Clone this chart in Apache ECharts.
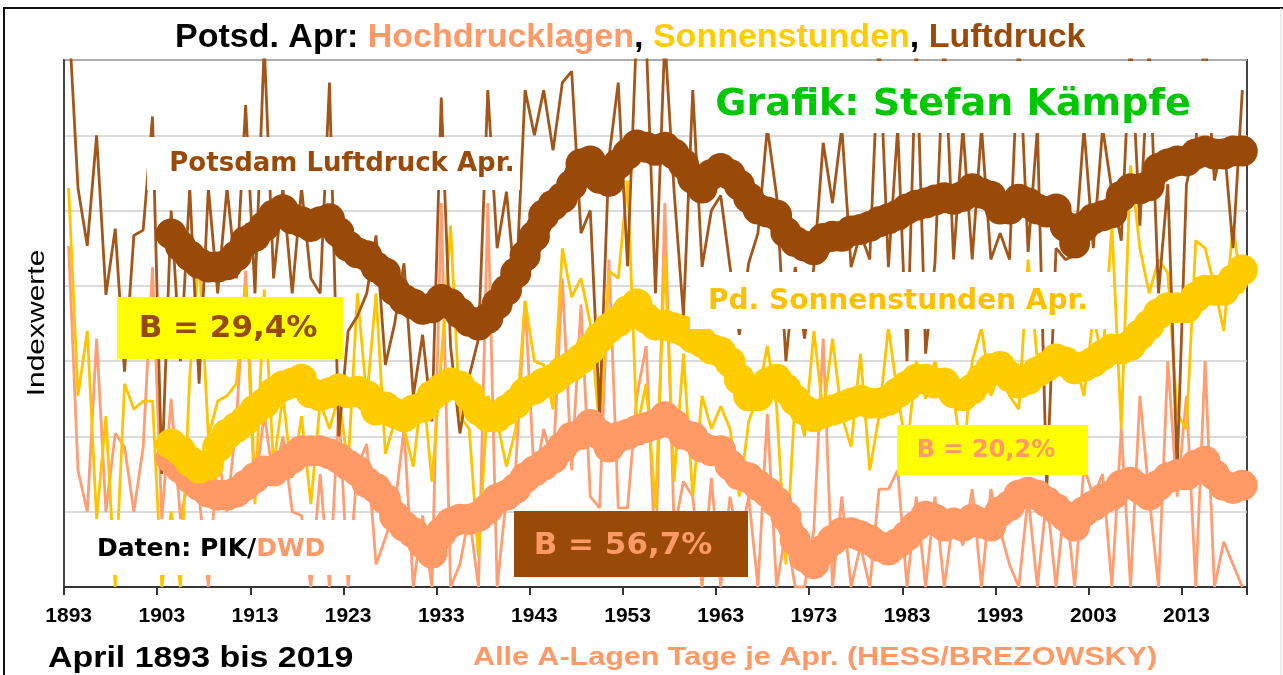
<!DOCTYPE html>
<html>
<head>
<meta charset="utf-8">
<script src="https://cdn.jsdelivr.net/npm/echarts@6/dist/echarts.min.js"></script>
<style>
html,body{margin:0;padding:0;background:#fff;}
#chart{width:1283px;height:675px;}
</style>
</head>
<body>
<div id="chart"></div>
<script>
// ---- categories ----
const years = [];
for (let y = 1893; y <= 2019; y++) years.push(String(y));

// ---- raw yearly index values (1893-2019) ----
const luftdruck = [
  7.6, 5.3, 4.53, 6.0, 3.88, 4.76, 2.86, 4.67, 4.74, 6.25,
  1.5, 5.0, 3.0, 5.3, 2.7, 5.3, 3.9, 5.3, 4.1, 6.4,
  3.9, 7.2, 4.1, 5.3, 3.9, 5.3, 4.1, 3.9, 6.7, 2.0,
  3.4, 3.6, 3.9, 4.67, 2.95, 3.5, 4.3, 2.54, 3.35, 2.2,
  6.5, 3.2, 2.04, 2.8, 3.3, 6.6, 4.5, 5.25, 3.9, 6.6,
  6.0, 6.6, 5.8, 6.7, 6.85, 4.7, 5.0, 2.3, 5.7, 6.7,
  4.26, 7.5, 7.3, 3.9, 7.3, 5.25, 3.6, 6.6, 4.25, 5.0,
  5.2, 4.25, 3.35, 4.3, 4.7, 6.1, 5.2, 3.0, 4.25, 3.3,
  4.25, 5.9, 5.1, 6.1, 4.25, 4.7, 4.35, 7.3, 4.25, 6.1,
  3.0, 7.3, 3.1, 4.3, 7.3, 4.35, 6.1, 4.35, 6.1, 4.35,
  4.7, 4.35, 7.3, 4.45, 6.1, 1.3, 4.5, 4.35, 4.4, 6.1,
  4.5, 6.1, 5.25, 4.6, 7.3, 4.8, 7.2, 3.9, 5.35, 1.55,
  5.35, 5.9, 7.3, 5.4, 5.95, 4.5, 6.6
];
const sonnenstunden = [
  5.3, 2.54, 3.4, 0.9, 2.27, 0, 2.7, 2.36, 2.47, 2.47,
  0, 1.0, 0, 2.8, 4.4, 2.0, 2.47, 2.54, 2.7, 4.0,
  1.1, 3.95, 1.6, 2.54, 1.45, 2.27, 1.1, 2.45, 2.1, 2.54,
  1.6, 3.9, 2.5, 3.9, 1.77, 2.2, 2.1, 1.6, 2.7, 1.4,
  3.0, 4.8, 2.27, 2.1, 0.4, 2.54, 2.2, 1.6, 2.1, 3.8,
  3.0, 2.95, 2.36, 4.5, 3.85, 4.1, 3.5, 2.1, 4.2, 4.1,
  5.4, 2.1, 2.7, 1.05, 4.4, 1.4, 3.1, 1.2, 2.54, 2.1,
  2.4, 2.1, 1.2, 2.2, 2.54, 3.2, 2.4, 0.3, 2.54, 2.0,
  3.4, 2.3, 3.3, 2.27, 1.86, 3.1, 1.55, 2.27, 3.45, 2.54,
  1.8, 3.0, 2.5, 3.0, 2.5, 2.54, 1.6, 3.0, 3.45, 2.54,
  2.86, 2.54, 2.36, 4.35, 3.0, 2.7, 3.0, 2.77, 3.0, 2.54,
  3.6, 3.0, 4.8, 2.1, 5.6, 4.5, 3.9, 4.35, 4.17, 2.3,
  2.1, 4.6, 4.5, 4.0, 3.4, 4.8, 3.9
];
const hochdrucklagen = [
  4.53, 1.55, 1.0, 3.3, 1.0, 2.04, 1.86, 1.0, 1.86, 4.25,
  0.9, 2.5, 0.9, 1.5, 1.2, 0, 1.8, 1.0, 2.2, 4.2,
  1.3, 2.3, 1.4, 2.0, 1.0, 0.95, 0, 1.5, 0, 2.4,
  0, 1.6, 1.9, 0.3, 0.65, 1.05, 2.1, 0, 0.95, 0,
  5.1, 0, 0.3, 0.95, 0, 5.1, 0, 1.2, 1.6, 3.8,
  1.4, 2.1, 1.6, 4.1, 1.55, 3.75, 1.2, 1.05, 4.35, 1.05,
  1.05, 2.54, 3.2, 0.3, 5.1, 0.75, 1.4, 1.2, 0, 1.45,
  0, 1.2, 0.55, 1.2, 0, 2.3, 0, 0.75, 0, 0,
  0.75, 3.3, 0, 1.2, 0, 0.55, 0, 1.3, 1.3, 1.55,
  0, 1.2, 0, 1.2, 0, 0.95, 0.55, 1.3, 0, 1.3,
  0.75, 0.3, 0, 1.2, 0, 1.2, 0, 1.2, 0, 1.6,
  1.2, 1.5, 0, 2.1, 0, 2.54, 1.2, 0, 3.0, 1.2,
  2.54, 0, 3.0, 0, 0.6, 0.3, 0
];

// ---- smoothed curves, 1904-2019 ----
const smoothStart = 1904;
const luftdruckSmooth = [
  4.69, 4.53, 4.40, 4.30, 4.25, 4.25, 4.28, 4.40, 4.59, 4.66,
  4.79, 4.94, 5.01, 4.89, 4.85, 4.79, 4.85, 4.89, 4.71, 4.53,
  4.44, 4.40, 4.25, 4.17, 3.94, 3.82, 3.76, 3.69, 3.71, 3.82,
  3.76, 3.64, 3.53, 3.48, 3.57, 3.76, 3.94, 4.17, 4.40, 4.66,
  4.94, 5.07, 5.17, 5.34, 5.62, 5.66, 5.43, 5.39, 5.62, 5.75,
  5.87, 5.84, 5.80, 5.84, 5.75, 5.62, 5.43, 5.30, 5.48, 5.56,
  5.48, 5.34, 5.17, 5.02, 4.98, 4.94, 4.71, 4.59, 4.53, 4.48,
  4.63, 4.66, 4.66, 4.73, 4.75, 4.79, 4.85, 4.89, 4.94, 5.02,
  5.07, 5.10, 5.14, 5.17, 5.15, 5.19, 5.29, 5.23, 5.19, 5.02,
  5.02, 5.15, 5.10, 5.02, 4.98, 5.02, 4.79, 4.57, 4.79, 4.89,
  4.93, 4.97, 5.19, 5.29, 5.29, 5.33, 5.56, 5.62, 5.66, 5.66,
  5.75, 5.79, 5.75, 5.75, 5.79, 5.79
];
const sonneSmooth = [
  1.90, 1.81, 1.67, 1.58, 1.62, 1.86, 2.03, 2.12, 2.22, 2.35,
  2.44, 2.58, 2.67, 2.71, 2.76, 2.58, 2.54, 2.58, 2.63, 2.58,
  2.60, 2.54, 2.35, 2.39, 2.31, 2.26, 2.35, 2.39, 2.54, 2.63,
  2.71, 2.67, 2.54, 2.35, 2.26, 2.26, 2.35, 2.44, 2.58, 2.63,
  2.71, 2.76, 2.86, 2.93, 3.03, 3.16, 3.31, 3.44, 3.53, 3.67,
  3.76, 3.57, 3.48, 3.48, 3.44, 3.40, 3.31, 3.25, 3.16, 3.12,
  2.99, 2.76, 2.54, 2.54, 2.71, 2.76, 2.63, 2.48, 2.35, 2.26,
  2.31, 2.35, 2.39, 2.44, 2.48, 2.44, 2.44, 2.48, 2.58, 2.67,
  2.76, 2.76, 2.71, 2.71, 2.58, 2.54, 2.63, 2.76, 2.90, 2.93,
  2.80, 2.71, 2.76, 2.86, 2.93, 3.03, 2.99, 2.90, 2.93, 2.99,
  3.08, 3.16, 3.16, 3.21, 3.35, 3.48, 3.63, 3.71, 3.71, 3.71,
  3.85, 3.94, 3.94, 3.94, 4.08, 4.21
];
const hochSmooth = [
  1.71, 1.58, 1.45, 1.35, 1.26, 1.22, 1.22, 1.26, 1.35, 1.45,
  1.54, 1.54, 1.62, 1.71, 1.81, 1.81, 1.81, 1.77, 1.71, 1.62,
  1.54, 1.39, 1.31, 1.17, 0.94, 0.81, 0.72, 0.58, 0.45, 0.72,
  0.85, 0.90, 0.90, 0.94, 1.04, 1.17, 1.22, 1.31, 1.45, 1.54,
  1.62, 1.71, 1.86, 1.99, 2.03, 2.16, 2.03, 1.86, 1.99, 2.03,
  2.08, 2.12, 2.16, 2.26, 2.16, 2.03, 1.99, 1.86, 1.81, 1.81,
  1.62, 1.49, 1.45, 1.35, 1.26, 1.13, 0.94, 0.62, 0.40, 0.31,
  0.49, 0.62, 0.72, 0.72, 0.68, 0.62, 0.54, 0.49, 0.58, 0.68,
  0.81, 0.94, 0.90, 0.81, 0.85, 0.81, 0.90, 0.85, 0.81, 1.00,
  1.08, 1.22, 1.26, 1.22, 1.13, 1.04, 0.94, 0.81, 1.00, 1.08,
  1.17, 1.22, 1.35, 1.39, 1.31, 1.22, 1.35, 1.45, 1.49, 1.49,
  1.62, 1.67, 1.49, 1.35, 1.31, 1.35
];

// ---- colours ----
const C_BROWN_THIN = '#A3561A';
const C_BROWN = '#9A4A08';
const C_YELLOW_THIN = '#FFC400';
const C_YELLOW = '#FFCC00';
const C_SALMON_THIN = '#FF9E72';
const C_SALMON = '#FF9966';

function pad(arr, start) {
  const lead = start - 1893;
  const out = [];
  for (let i = 0; i < lead; i++) out.push(null);
  return out.concat(arr);
}

const chart = echarts.init(document.getElementById('chart'), null, {renderer: 'canvas'});

function thin(name, data, color) {
  return {
    name: name, type: 'line', data: data, z: 2,
    showSymbol: false, symbol: 'none',
    lineStyle: {color: color, width: 2.8},
    itemStyle: {color: color},
    animation: false
  };
}
function thick(name, data, color) {
  return {
    name: name, type: 'line', data: pad(data, smoothStart), z: 3,
    showSymbol: true, showAllSymbol: true, symbol: 'circle', symbolSize: 31,
    lineStyle: {color: color, width: 25, cap: 'round', join: 'round'},
    itemStyle: {color: color, borderWidth: 0},
    animation: false
  };
}

const F = '"Liberation Sans", Arial, sans-serif';
const W = '"DejaVu Sans", sans-serif';

chart.setOption({
  backgroundColor: '#ffffff',
  animation: false,
  title: {
    text: '{k|Potsd. Apr: }{h|Hochdrucklagen}{k|, }{s|Sonnenstunden}{k|, }{l|Luftdruck}',
    left: 170, top: 16,
    textStyle: {
      rich: {
        k: {color: '#000', fontFamily: F, fontWeight: 'bold', fontSize: 34},
        h: {color: C_SALMON, fontFamily: F, fontWeight: 'bold', fontSize: 34},
        s: {color: C_YELLOW, fontFamily: F, fontWeight: 'bold', fontSize: 34},
        l: {color: C_BROWN, fontFamily: F, fontWeight: 'bold', fontSize: 34}
      }
    }
  },
  grid: {
    left: 64, right: 36, top: 60, bottom: 88,
    show: true, borderColor: '#444', borderWidth: 2, backgroundColor: 'transparent'
  },
  xAxis: {
    type: 'category', data: years, boundaryGap: true,
    axisLine: {lineStyle: {color: '#333', width: 2}},
    axisTick: {show: true, interval: 9, length: 8, lineStyle: {color: '#333', width: 2}},
    axisLabel: {
      interval: 9, margin: 19, color: '#000',
      fontFamily: F, fontWeight: 'bold', fontSize: 21
    },
    splitLine: {show: false}
  },
  yAxis: {
    type: 'value', min: 0, max: 7, interval: 1,
    axisLine: {show: true, lineStyle: {color: '#444', width: 2}},
    axisTick: {show: false},
    axisLabel: {show: false},
    splitLine: {show: true, lineStyle: {color: '#cfcfcf', width: 1.5}}
  },
  series: [
    thin('Hochdrucklagen', hochdrucklagen, C_SALMON_THIN),
    thin('Sonnenstunden', sonnenstunden, C_YELLOW_THIN),
    thin('Luftdruck', luftdruck, C_BROWN_THIN),
    thick('Hochdrucklagen geglättet', hochSmooth, C_SALMON),
    thick('Sonnenstunden geglättet', sonneSmooth, C_YELLOW),
    thick('Luftdruck geglättet', luftdruckSmooth, C_BROWN)
  ],
  graphic: [
    // outer frame
    {type: 'line', z: 200, shape: {x1: 3, y1: 8, x2: 1283, y2: 8}, style: {stroke: '#111', lineWidth: 2}},
    {type: 'line', z: 200, shape: {x1: 4, y1: 8, x2: 4, y2: 675}, style: {stroke: '#111', lineWidth: 2}},
    {type: 'line', z: 200, shape: {x1: 1281, y1: 8, x2: 1281, y2: 675}, style: {stroke: '#d8d8d8', lineWidth: 1}},

    // y axis title
    {type: 'text', z: 101, x: 37, y: 323, rotation: Math.PI / 2, scaleX: 1.25,
     style: {text: 'Indexwerte', fill: '#000', font: '24px ' + F, align: 'center', verticalAlign: 'middle'}},

    // label: Potsdam Luftdruck Apr.
    {type: 'rect', z: 100, shape: {x: 147, y: 137, width: 373, height: 53}, style: {fill: '#fff'}},
    {type: 'text', z: 101, x: 342, y: 164, style: {text: 'Potsdam Luftdruck Apr.', fill: C_BROWN, font: 'bold 26px ' + W, align: 'center', verticalAlign: 'middle'}},

    // Grafik credit
    {type: 'rect', z: 100, shape: {x: 700, y: 61, width: 515, height: 72}, style: {fill: '#fff'}},
    {type: 'text', z: 101, x: 953, y: 105, style: {text: 'Grafik: Stefan Kämpfe', fill: '#00C800', font: 'bold 38px ' + W, align: 'center', verticalAlign: 'middle'}},

    // Pd. Sonnenstunden Apr.
    {type: 'rect', z: 100, shape: {x: 690, y: 272, width: 420, height: 57}, style: {fill: '#fff'}},
    {type: 'text', z: 101, x: 898, y: 302, style: {text: 'Pd. Sonnenstunden Apr.', fill: '#FFC000', font: 'bold 28px ' + W, align: 'center', verticalAlign: 'middle'}},

    // Daten
    {type: 'rect', z: 100, shape: {x: 65, y: 520, width: 295, height: 55}, style: {fill: '#fff'}},
    {type: 'text', z: 101, x: 97, y: 549, style: {
      text: '{a|Daten: PIK/}{b|DWD}', verticalAlign: 'middle',
      rich: {a: {fill: '#000', font: 'bold 25px ' + W}, b: {fill: C_SALMON, font: 'bold 25px ' + W}}
    }},

    // B = 29,4%
    {type: 'rect', z: 100, shape: {x: 117, y: 297, width: 226, height: 62}, style: {fill: '#FFFF00'}},
    {type: 'text', z: 101, x: 228, y: 329, style: {text: 'B = 29,4%', fill: C_BROWN, font: 'bold 31px ' + W, align: 'center', verticalAlign: 'middle'}},

    // B = 20,2%
    {type: 'rect', z: 100, shape: {x: 897, y: 425, width: 191, height: 50}, style: {fill: '#FFFF00'}},
    {type: 'text', z: 101, x: 986, y: 451, style: {text: 'B = 20,2%', fill: C_SALMON, font: 'bold 24px ' + W, align: 'center', verticalAlign: 'middle'}},

    // B = 56,7%
    {type: 'rect', z: 100, shape: {x: 514, y: 511, width: 234, height: 66}, style: {fill: C_BROWN}},
    {type: 'text', z: 101, x: 623, y: 546, style: {text: 'B = 56,7%', fill: C_SALMON, font: 'bold 31px ' + W, align: 'center', verticalAlign: 'middle'}},

    // bottom captions
    {type: 'text', z: 101, x: 48, y: 659, scaleX: 1.13,
     style: {text: 'April 1893 bis 2019', fill: '#000', font: 'bold 30px ' + F, verticalAlign: 'middle'}},
    {type: 'text', z: 101, x: 815, y: 658, scaleX: 1.22,
     style: {text: 'Alle A-Lagen Tage je Apr. (HESS/BREZOWSKY)', fill: C_SALMON, font: 'bold 25px ' + F, align: 'center', verticalAlign: 'middle'}}
  ]
});
</script>
</body>
</html>
